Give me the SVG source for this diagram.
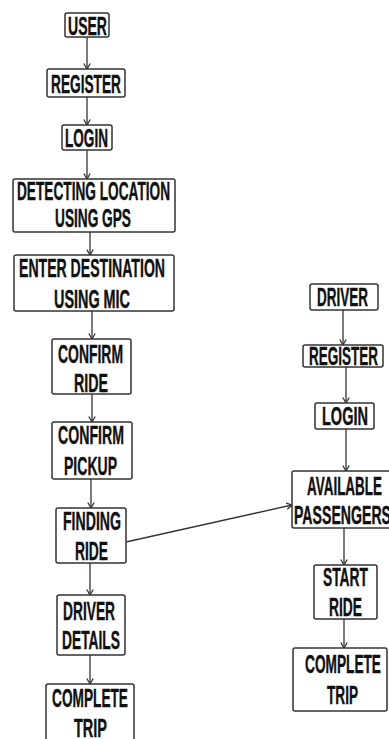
<svg xmlns="http://www.w3.org/2000/svg" width="389" height="739" viewBox="0 0 389 739">
<style>
.box{fill:#fff;stroke:#333;stroke-width:1.5}
.t{font-family:"Liberation Sans",Arial,sans-serif;font-weight:bold;font-size:25px;fill:#111;stroke:#111;stroke-width:0.4;text-anchor:start}
.c{fill:none;stroke:#333;stroke-width:1.3;marker-end:url(#ah)}
</style>
<defs>
<marker id="ah" markerUnits="userSpaceOnUse" markerWidth="10" markerHeight="10" refX="6" refY="4" orient="auto">
<path d="M0.5,0.8 L6,4 L0.5,7.2" fill="none" stroke="#333" stroke-width="1.3"/>
</marker>
</defs>
<rect width="389" height="739" fill="#fff"/>
<g id="connectors">
<line class="c" x1="87" y1="37" x2="87" y2="69"/>
<line class="c" x1="87" y1="97" x2="87" y2="125"/>
<line class="c" x1="87" y1="150" x2="87" y2="179"/>
<line class="c" x1="90" y1="232" x2="90" y2="255"/>
<line class="c" x1="92" y1="311" x2="92" y2="339"/>
<line class="c" x1="92" y1="394" x2="92" y2="422"/>
<line class="c" x1="91" y1="479" x2="91" y2="508"/>
<line class="c" x1="90" y1="563" x2="90" y2="595"/>
<line class="c" x1="90" y1="655" x2="90" y2="684"/>
<line class="c" x1="343" y1="310" x2="343" y2="345"/>
<line class="c" x1="346" y1="367" x2="346" y2="403"/>
<line class="c" x1="346" y1="429" x2="346" y2="471"/>
<line class="c" x1="344" y1="528" x2="344" y2="565"/>
<line class="c" x1="344" y1="619" x2="344" y2="648"/>
<line class="c" x1="126" y1="542" x2="292" y2="505"/>
</g>
<g id="user"><rect class="box" x="65" y="13" width="44" height="24" rx="2"/><text class="t" x="68" y="35" textLength="39" lengthAdjust="spacingAndGlyphs">USER</text></g>
<g id="register"><rect class="box" x="47" y="69" width="78" height="28" rx="2"/><text class="t" x="51" y="93" textLength="70" lengthAdjust="spacingAndGlyphs">REGISTER</text></g>
<g id="login"><rect class="box" x="62" y="125" width="50" height="25" rx="2"/><text class="t" x="65" y="147" textLength="43" lengthAdjust="spacingAndGlyphs">LOGIN</text></g>
<g id="detecting"><rect class="box" x="13" y="179" width="162" height="53" rx="2"/><text class="t" x="17" y="200" textLength="153" lengthAdjust="spacingAndGlyphs">DETECTING LOCATION</text><text class="t" x="55" y="227" textLength="76" lengthAdjust="spacingAndGlyphs">USING GPS</text></g>
<g id="enter"><rect class="box" x="14" y="255" width="160" height="56" rx="2"/><text class="t" x="19" y="277" textLength="146" lengthAdjust="spacingAndGlyphs">ENTER DESTINATION</text><text class="t" x="54" y="308" textLength="76" lengthAdjust="spacingAndGlyphs">USING MIC</text></g>
<g id="confirm-ride"><rect class="box" x="52" y="339" width="79" height="55" rx="2"/><text class="t" x="58" y="363" textLength="65" lengthAdjust="spacingAndGlyphs">CONFIRM</text><text class="t" x="74" y="392" textLength="34" lengthAdjust="spacingAndGlyphs">RIDE</text></g>
<g id="confirm-pickup"><rect class="box" x="52" y="422" width="80" height="57" rx="2"/><text class="t" x="58" y="444" textLength="66" lengthAdjust="spacingAndGlyphs">CONFIRM</text><text class="t" x="64" y="475" textLength="53" lengthAdjust="spacingAndGlyphs">PICKUP</text></g>
<g id="finding-ride"><rect class="box" x="56" y="508" width="70" height="55" rx="2"/><text class="t" x="63" y="530" textLength="58" lengthAdjust="spacingAndGlyphs">FINDING</text><text class="t" x="75" y="560" textLength="33" lengthAdjust="spacingAndGlyphs">RIDE</text></g>
<g id="driver-details"><rect class="box" x="57" y="595" width="68" height="60" rx="2"/><text class="t" x="63" y="620" textLength="52" lengthAdjust="spacingAndGlyphs">DRIVER</text><text class="t" x="62" y="649" textLength="58" lengthAdjust="spacingAndGlyphs">DETAILS</text></g>
<g id="complete-trip-user"><rect class="box" x="46" y="684" width="88" height="62" rx="2"/><text class="t" x="52" y="707" textLength="76" lengthAdjust="spacingAndGlyphs">COMPLETE</text><text class="t" x="74" y="737" textLength="33" lengthAdjust="spacingAndGlyphs">TRIP</text></g>
<g id="driver"><rect class="box" x="310" y="284" width="68" height="26" rx="2"/><text class="t" x="317" y="306" textLength="51" lengthAdjust="spacingAndGlyphs">DRIVER</text></g>
<g id="driver-register"><rect class="box" x="303" y="345" width="80" height="22" rx="2"/><text class="t" x="309" y="365" textLength="69" lengthAdjust="spacingAndGlyphs">REGISTER</text></g>
<g id="driver-login"><rect class="box" x="315" y="403" width="59" height="26" rx="2"/><text class="t" x="322" y="425" textLength="46" lengthAdjust="spacingAndGlyphs">LOGIN</text></g>
<g id="available"><rect class="box" x="292" y="471" width="105" height="57" rx="2"/><text class="t" x="307" y="495" textLength="75" lengthAdjust="spacingAndGlyphs">AVAILABLE</text><text class="t" x="294" y="524" textLength="97" lengthAdjust="spacingAndGlyphs">PASSENGERS</text></g>
<g id="start-ride"><rect class="box" x="314" y="565" width="63" height="54" rx="2"/><text class="t" x="323" y="586" textLength="45" lengthAdjust="spacingAndGlyphs">START</text><text class="t" x="329" y="616" textLength="33" lengthAdjust="spacingAndGlyphs">RIDE</text></g>
<g id="complete-trip-driver"><rect class="box" x="293" y="648" width="94" height="63" rx="2"/><text class="t" x="305" y="673" textLength="76" lengthAdjust="spacingAndGlyphs">COMPLETE</text><text class="t" x="327" y="704" textLength="31" lengthAdjust="spacingAndGlyphs">TRIP</text></g>
</svg>
